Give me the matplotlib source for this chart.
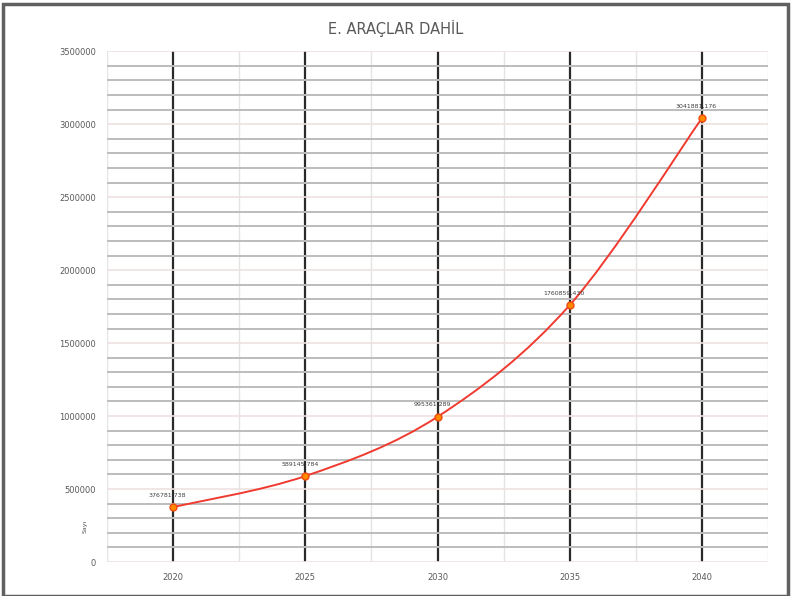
import matplotlib
matplotlib.use("Agg")
import matplotlib.pyplot as plt
from matplotlib.path import Path
from matplotlib.patches import PathPatch, Rectangle
from matplotlib.ticker import MultipleLocator

# data
years = [2020, 2025, 2030, 2035, 2040]
values = [376781.738, 589145.784, 995361.289, 1760859.430, 3041881.176]
labels = ["376781,738", "589145,784", "995361,289", "1760859,430", "3041881,176"]
title = "E. ARAÇLAR DAHİL"
ylabel = "Sayı"

fig = plt.figure(figsize=(7.91, 5.96), dpi=100)
ax = fig.add_axes([0.1353, 0.057, 0.8357, 0.857])

ax.set_xlim(2017.5, 2042.5)
ax.set_ylim(0, 3500000)
ax.set_xticks(years)
ax.xaxis.set_minor_locator(MultipleLocator(2.5))
ax.yaxis.set_major_locator(MultipleLocator(500000))
ax.yaxis.set_minor_locator(MultipleLocator(100000))

# grid: faint majors on y, darker minors; black vertical lines at the years
ax.grid(axis="y", which="minor", color="#bcbcbc", lw=1.4)
ax.grid(axis="y", which="major", color="#eee2e2", lw=1.2)
ax.grid(axis="x", which="minor", color="#e4e4e4", lw=1.0)
ax.grid(axis="x", which="major", color="#2a2a2a", lw=1.6)
ax.set_axisbelow(True)

for s in ax.spines.values():
    s.set_visible(False)
ax.tick_params(which="both", length=0, labelsize=6, colors="#5a5a5a", pad=8)
ax.set_yticklabels([str(int(v)) for v in ax.get_yticks()])

# smoothed line (Catmull-Rom style bezier through the points)
pts = list(zip(years, values))
verts = [pts[0]]
codes = [Path.MOVETO]
for i in range(len(pts) - 1):
    p0 = pts[i - 1] if i > 0 else pts[i]
    p1 = pts[i]
    p2 = pts[i + 1]
    p3 = pts[i + 2] if i + 2 < len(pts) else pts[i + 1]
    c1 = (p1[0] + (p2[0] - p0[0]) / 6, p1[1] + (p2[1] - p0[1]) / 6)
    c2 = (p2[0] - (p3[0] - p1[0]) / 6, p2[1] - (p3[1] - p1[1]) / 6)
    verts += [c1, c2, p2]
    codes += [Path.CURVE4] * 3
ax.add_patch(PathPatch(Path(verts, codes), fill=False, edgecolor="#f03a30", lw=1.4, zorder=3))

ax.plot(years, values, ls="none", marker="o", ms=5, mfc="#ff8a00", mec="#f04a10", zorder=4)

for x, y, t in zip(years, values, labels):
    ax.annotate(t, (x, y), xytext=(-4, 7), textcoords="offset points",
                ha="center", va="bottom", fontsize=4.5, color="#404040")

ax.set_ylabel(ylabel, fontsize=4.5, color="#505050", labelpad=2)
ax.yaxis.set_label_coords(-0.03, 0.07)

fig.text(0.5, 0.953, title, ha="center", va="center", fontsize=10.5, color="#595959")

fig.patches.append(Rectangle((0.004, 0.0), 0.992, 0.994, transform=fig.transFigure,
                             fill=False, edgecolor="#606060", lw=2.5))

fig.savefig("out.png", dpi=100)
